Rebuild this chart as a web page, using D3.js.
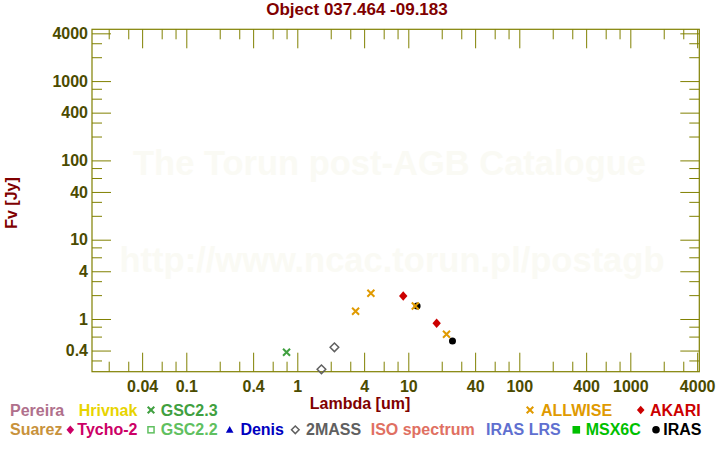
<!DOCTYPE html>
<html><head><meta charset="utf-8">
<script src="https://cdn.jsdelivr.net/npm/d3@7"></script>
<style>
html,body{margin:0;padding:0;background:#fff;}
svg text{font-family:"Liberation Sans",Arial,Helvetica,sans-serif;font-weight:bold;}
</style></head>
<body><svg id="c" width="720" height="450"></svg>
<script>
// ---- data ----
const allwiseLambda = [3.35, 4.6, 11.56, 22.09];
const allwiseFlux   = [1.25, 2.11, 1.46, 0.641];
const akariLambda   = [9, 18];
const akariFlux     = [1.95, 0.883];
const irasLambda    = [12, 25];
const irasFlux      = [1.46, 0.528];
const twomassLambda = [1.65, 2.16];
const twomassFlux   = [0.232, 0.44];
const gsc23Lambda   = [0.80];
const gsc23Flux     = [0.38];

const xTickLabels = [0.04, 0.1, 0.4, 1, 4, 10, 40, 100, 400, 1000, 4000];
const xMinorTicks = [0.02,0.03,0.06,0.08,0.2,0.3,0.6,0.8,2,3,6,8,20,30,60,80,200,300,600,800,2000,3000];
const yTickLabels = [0.4, 1, 4, 10, 40, 100, 400, 1000, 4000];
const yMinorTicks = [0.3,0.6,0.8,2,3,6,8,20,30,60,80,200,300,600,800,2000,3000];

const legendNames  = ["Pereira","Hrivnak","GSC2.3","ALLWISE","AKARI","Suarez","Tycho-2","GSC2.2","Denis","2MASS","ISO spectrum","IRAS LRS","MSX6C","IRAS"];
const legendColors = ["#b0708c","#e8d400","#40a040","#e09a00","#cc0000","#c8923c","#cc0066","#60c060","#0000c0","#606060","#e07062","#6070d0","#00c000","#000000"];
const legendSymbols= [null,null,"x","x","diamond",null,"diamond","square","triangle","odiamond",null,null,"fsquare","circle"];

// ---- layout ----
const legendLayout = [[10,415.5,null],[78.7,415.5,null],[160.7,415.5,151],[541,415.5,530],[650,415.5,640.7],
  [10,435.3,null],[77.3,435.3,70.3],[160.7,435.3,151],[240.4,435.3,229.7],[306,435.3,295.3],[370.7,435.3,null],[486,435.3,null],[585.7,435.3,576.3],[663.3,435.3,656]];
const L=92, R=699.3, T=29.3, B=371.7;
const axisCol="#808000", labCol="#4b4b00", titleCol="#800000";

const svg=d3.select("#c");
const x=d3.scaleLog().domain([0.014140,4183]).range([L,R]);
const y=d3.scaleLog().domain([0.2165,4498]).range([B,T]);

// watermark
svg.append("text").attr("x",389.5).attr("y",175).attr("text-anchor","middle").attr("font-size",34.5).attr("fill","#fafaf4").text("The Torun post-AGB Catalogue");
svg.append("text").attr("x",392).attr("y",272).attr("text-anchor","middle").attr("font-size",34.5).attr("fill","#fafaf4").text("http://www.ncac.torun.pl/postagb");

// title
svg.append("text").attr("x",357).attr("y",15).attr("text-anchor","middle").attr("font-size",17).attr("fill",titleCol).text("Object 037.464 -09.183");

function styleAxis(g){g.select(".domain").remove();g.selectAll("line").attr("stroke",axisCol);g.selectAll("text").attr("fill",labCol).attr("font-size",16);}
const fmt=d=>String(d);
// bottom
svg.append("g").attr("transform",`translate(0,${B})`).call(d3.axisBottom(x).tickValues(xTickLabels).tickFormat(fmt).tickSizeInner(-19).tickSizeOuter(0).tickPadding(9)).call(styleAxis);
svg.append("g").attr("transform",`translate(0,${B})`).call(d3.axisBottom(x).tickValues(xMinorTicks).tickFormat("").tickSizeInner(-10).tickSizeOuter(0)).call(styleAxis);
// top
svg.append("g").attr("transform",`translate(0,${T})`).call(d3.axisTop(x).tickValues(xTickLabels).tickFormat("").tickSizeInner(-19).tickSizeOuter(0)).call(styleAxis);
svg.append("g").attr("transform",`translate(0,${T})`).call(d3.axisTop(x).tickValues(xMinorTicks).tickFormat("").tickSizeInner(-10).tickSizeOuter(0)).call(styleAxis);
// left
svg.append("g").attr("transform",`translate(${L},0)`).call(d3.axisLeft(y).tickValues(yTickLabels).tickFormat(fmt).tickSizeInner(-19).tickSizeOuter(0).tickPadding(4)).call(styleAxis);
svg.append("g").attr("transform",`translate(${L},0)`).call(d3.axisLeft(y).tickValues(yMinorTicks).tickFormat("").tickSizeInner(-10).tickSizeOuter(0)).call(styleAxis);
// right
svg.append("g").attr("transform",`translate(${R},0)`).call(d3.axisRight(y).tickValues(yTickLabels).tickFormat("").tickSizeInner(-19).tickSizeOuter(0)).call(styleAxis);
svg.append("g").attr("transform",`translate(${R},0)`).call(d3.axisRight(y).tickValues(yMinorTicks).tickFormat("").tickSizeInner(-10).tickSizeOuter(0)).call(styleAxis);
// frame
svg.append("rect").attr("x",L).attr("y",T).attr("width",R-L).attr("height",B-T).attr("fill","none").attr("stroke",axisCol).attr("stroke-width",1.2);

// axis titles
svg.append("text").attr("x",360).attr("y",409.3).attr("text-anchor","middle").attr("font-size",16).attr("fill",titleCol).text("Lambda [um]");
svg.append("text").attr("transform","translate(16.5,203) rotate(-90)").attr("text-anchor","middle").attr("font-size",16).attr("fill",titleCol).text("Fv [Jy]");

// symbols
function drawSym(g,type,cx,cy,s,col){
  if(type==="x"){
    g.append("path").attr("d",`M${cx-s},${cy-s}L${cx+s},${cy+s}M${cx-s},${cy+s}L${cx+s},${cy-s}`).attr("stroke",col).attr("stroke-width",2).attr("fill","none");
  } else if(type==="diamond"){
    g.append("path").attr("d",`M${cx},${cy-s*1.15}L${cx+s},${cy}L${cx},${cy+s*1.15}L${cx-s},${cy}Z`).attr("fill",col);
  } else if(type==="odiamond"){
    g.append("path").attr("d",`M${cx},${cy-s}L${cx+s},${cy}L${cx},${cy+s}L${cx-s},${cy}Z`).attr("fill","none").attr("stroke",col).attr("stroke-width",1.5);
  } else if(type==="square"){
    g.append("rect").attr("x",cx-s+0.75).attr("y",cy-s+0.75).attr("width",2*s-1.5).attr("height",2*s-1.5).attr("fill","none").attr("stroke",col).attr("stroke-width",1.5);
  } else if(type==="fsquare"){
    g.append("rect").attr("x",cx-s).attr("y",cy-s).attr("width",2*s).attr("height",2*s).attr("fill",col);
  } else if(type==="triangle"){
    g.append("path").attr("d",`M${cx},${cy-s}L${cx+s},${cy+s*0.8}L${cx-s},${cy+s*0.8}Z`).attr("fill",col);
  } else if(type==="circle"){
    g.append("circle").attr("cx",cx).attr("cy",cy).attr("r",s).attr("fill",col);
  }
}
const pts=svg.append("g");
function series(lam,flux,type,size,col){lam.forEach((l,i)=>drawSym(pts,type,x(l),y(flux[i]),size,col));}
series(gsc23Lambda,gsc23Flux,"x",3.5,"#40a040");
series(twomassLambda,twomassFlux,"odiamond",4.3,"#606060");
series(akariLambda,akariFlux,"diamond",4.2,"#cc0000");
series(irasLambda,irasFlux,"circle",3.5,"#000000");
series(allwiseLambda,allwiseFlux,"x",3.5,"#e09a00");

// legend
const lg=svg.append("g");
legendNames.forEach((n,i)=>{
  const [tx,ty,mx]=legendLayout[i];
  lg.append("text").attr("x",tx).attr("y",ty).attr("font-size",16).attr("fill",legendColors[i]).text(n);
  if(legendSymbols[i]) drawSym(lg,legendSymbols[i],mx,ty-5.5,legendSymbols[i]==="x"?3.3:3.8,legendColors[i]);
});
</script></body></html>
